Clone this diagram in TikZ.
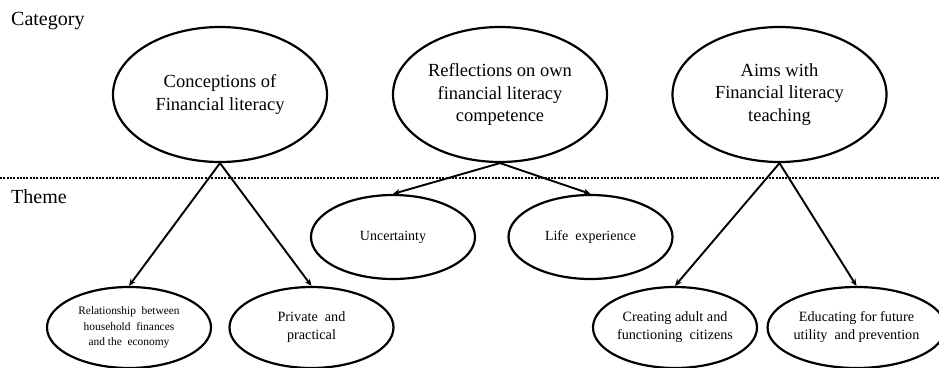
\documentclass[tikz,border=0pt]{standalone}
\usepackage{fontspec}
\setmainfont{Liberation Serif}
\usetikzlibrary{shapes.geometric,arrows.meta}
\begin{document}
\begin{tikzpicture}[x=1pt,y=-1pt,
  catnode/.style={ellipse,draw,line width=2.2pt,inner sep=0pt,minimum width=214pt,minimum height=135pt,align=center,font=\fontsize{18.5}{22.5}\selectfont},
  midnode/.style={ellipse,draw,line width=2.2pt,inner sep=0pt,minimum width=164pt,minimum height=84pt,align=center,font=\fontsize{14}{18}\selectfont},
  lownode/.style={ellipse,draw,line width=2.2pt,inner sep=0pt,minimum width=164pt,minimum height=81pt,align=center,font=\fontsize{14.2}{18}\selectfont},
  smallnode/.style={lownode,font=\fontsize{11.4}{15.5}\selectfont},
  lbl/.style={anchor=west,inner sep=0pt,font=\fontsize{20}{24}\selectfont},
  link/.style={line width=1.9pt,-{Stealth[length=7pt,width=6pt]}}]
\useasboundingbox (0,0) rectangle (939,367);
\node[lbl] (cat) at (11,21) {Category};
\node[lbl] (theme) at (11,197) {Theme};
\coordinate (dl) at (0,178);
\coordinate (dr) at (939,178);
\draw[line width=2pt,dash pattern=on 2pt off 1.3pt] (dl) -- (dr);
\node[catnode] (c1) at (220,94.5) {Conceptions of\\Financial literacy};
\node[catnode] (c2) at (500,94.5) {Reflections on own\\financial literacy\\competence};
\node[catnode] (c3) at (779.5,94.5) {Aims with\\Financial literacy\\teaching};
\node[midnode] (m1) at (393,237) {Uncertainty};
\node[midnode] (m2) at (590.5,237) {Life\ \ experience};
\node[smallnode] (b1) at (129,327.5) {Relationship\ \ between\\household\ \ finances\\and\ the\ \ economy};
\node[lownode] (b2) at (311.5,327.5) {Private\ \ and\\practical};
\node[lownode] (b3) at (675,327.5) {Creating\ adult\ and\\functioning\ \ citizens};
\node[lownode] (b4) at (856.5,327.5) {Educating\ for\ future\\utility\ \ and prevention};
\draw[link] (c1.south) -- (b1.north);
\draw[link] (c1.south) -- (b2.north);
\draw[link] (c2.south) -- (m1.north);
\draw[link] (c2.south) -- (m2.north);
\draw[link] (c3.south) -- (b3.north);
\draw[link] (c3.south) -- (b4.north);
\end{tikzpicture}
\end{document}
